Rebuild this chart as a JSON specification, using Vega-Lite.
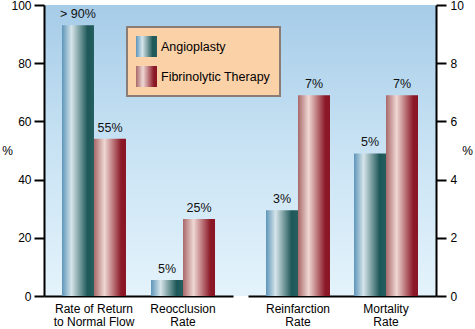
{
  "$schema": "https://vega.github.io/schema/vega-lite/v6.json",
  "width": 392,
  "height": 291,
  "autosize": "none",
  "padding": {"left": 44, "top": 5, "right": 39, "bottom": 33},
  "background": "white",
  "datasets": {
    "left": [
      {"category": "Rate of Return|to Normal Flow", "therapy": "Angioplasty", "value": 93, "label": "> 90%"},
      {"category": "Rate of Return|to Normal Flow", "therapy": "Fibrinolytic Therapy", "value": 54, "label": "55%"},
      {"category": "Reocclusion|Rate", "therapy": "Angioplasty", "value": 5.5, "label": "5%"},
      {"category": "Reocclusion|Rate", "therapy": "Fibrinolytic Therapy", "value": 26.5, "label": "25%"}
    ],
    "right": [
      {"category": "Reinfarction|Rate", "therapy": "Angioplasty", "value": 2.95, "label": "3%"},
      {"category": "Reinfarction|Rate", "therapy": "Fibrinolytic Therapy", "value": 6.9, "label": "7%"},
      {"category": "Mortality|Rate", "therapy": "Angioplasty", "value": 4.9, "label": "5%"},
      {"category": "Mortality|Rate", "therapy": "Fibrinolytic Therapy", "value": 6.9, "label": "7%"}
    ]
  },
  "config": {
    "font": "Liberation Sans",
    "view": {
      "stroke": null,
      "fill": {"gradient": "linear", "x1": 0, "y1": 0, "x2": 0, "y2": 1,
        "stops": [{"offset": 0, "color": "#a6cce8"}, {"offset": 0.5, "color": "#c9e3f4"}, {"offset": 1, "color": "#e4f3fb"}]}
    },
    "axis": {
      "domainColor": "black", "domainWidth": 2, "tickColor": "black", "tickWidth": 2, "tickSize": 10,
      "labelFont": "Liberation Sans", "labelFontSize": 12, "labelColor": "black", "grid": false,
      "titleFont": "Liberation Sans", "titleFontSize": 12, "titleFontWeight": "normal", "titleColor": "black"
    },
    "legend": {
      "orient": "none", "legendX": 83, "legendY": 22, "title": null,
      "fillColor": "#fbd1a8", "strokeColor": "#8a7d76", "strokeWidth": 2,
      "padding": 9, "symbolType": "square", "symbolSize": 440, "symbolStrokeWidth": 0, "symbolOpacity": 1,
      "labelFont": "Liberation Sans", "labelFontSize": 12.5, "labelColor": "black",
      "rowPadding": 9, "labelOffset": 4
    }
  },
  "layer": [
    {
      "data": {"name": "left"},
      "encoding": {
        "x": {"field": "category", "type": "nominal", "sort": null,
          "scale": {"range": [0, 189], "paddingInner": 0.281, "paddingOuter": 0.202},
          "axis": {"title": null, "ticks": false, "labelAngle": 0, "labelPadding": 7, "labelLineHeight": 13, "labelFontSize": 12, "labelExpr": "split(datum.value, '|')"}},
        "xOffset": {"field": "therapy", "type": "nominal", "sort": ["Angioplasty", "Fibrinolytic Therapy"], "scale": {"domain": ["Angioplasty", "Fibrinolytic Therapy"]}},
        "y": {"field": "value", "type": "quantitative",
          "scale": {"domain": [0, 100]},
          "axis": {"orient": "left", "values": [0, 20, 40, 60, 80, 100], "title": "%", "titleAngle": 0, "titleX": -37, "titleY": 145, "titleAlign": "center", "titleBaseline": "middle", "labelPadding": 3}}
      },
      "layer": [
        {"mark": {"type": "point", "opacity": 0, "filled": true,
           "fill": {"expr": "(datum.therapy || datum.value) === 'Angioplasty' ? {gradient: 'linear', x1: 0, y1: 0, x2: 1, y2: 0, stops: [{offset: 0, color: '#5d95b9'}, {offset: 0.3, color: '#d6e5ea'}, {offset: 0.8, color: '#1d5757'}, {offset: 1, color: '#245e5e'}]} : {gradient: 'linear', x1: 0, y1: 0, x2: 1, y2: 0, stops: [{offset: 0, color: '#a86868'}, {offset: 0.33, color: '#efd8d4'}, {offset: 0.85, color: '#8c1a28'}, {offset: 1, color: '#8a1424'}]}"}},
         "encoding": {"shape": {"field": "therapy", "type": "nominal",
           "scale": {"domain": ["Angioplasty", "Fibrinolytic Therapy"], "range": ["square", "square"]}}}},
        {"transform": [{"filter": "datum.therapy === 'Angioplasty'"}],
         "mark": {"type": "bar", "fill": {"gradient": "linear", "x1": 0, "y1": 0, "x2": 1, "y2": 0, "stops": [{"offset": 0, "color": "#5d95b9"}, {"offset": 0.3, "color": "#d6e5ea"}, {"offset": 0.8, "color": "#1d5757"}, {"offset": 1, "color": "#245e5e"}]}}},
        {"transform": [{"filter": "datum.therapy === 'Fibrinolytic Therapy'"}],
         "mark": {"type": "bar", "fill": {"gradient": "linear", "x1": 0, "y1": 0, "x2": 1, "y2": 0, "stops": [{"offset": 0, "color": "#a86868"}, {"offset": 0.33, "color": "#efd8d4"}, {"offset": 0.85, "color": "#8c1a28"}, {"offset": 1, "color": "#8a1424"}]}}},
        {"mark": {"type": "text", "dy": -7, "baseline": "alphabetic", "fontSize": 12.5, "color": "#111"},
         "encoding": {"text": {"field": "label"}}}
      ]
    },
    {
      "data": {"name": "right"},
      "encoding": {
        "x": {"field": "category", "type": "nominal", "sort": null,
          "scale": {"range": [204, 392], "paddingInner": 0.273, "paddingOuter": 0.2045},
          "axis": {"title": null, "ticks": false, "labelAngle": 0, "labelPadding": 7, "labelLineHeight": 13, "labelFontSize": 12, "orient": "bottom", "labelExpr": "split(datum.value, '|')"}},
        "xOffset": {"field": "therapy", "type": "nominal", "sort": ["Angioplasty", "Fibrinolytic Therapy"], "scale": {"domain": ["Angioplasty", "Fibrinolytic Therapy"]}},
        "y": {"field": "value", "type": "quantitative",
          "scale": {"domain": [0, 10]},
          "axis": {"orient": "right", "values": [0, 2, 4, 6, 8, 10], "title": "%", "titleAngle": 0, "titleX": 31, "titleY": 145, "titleAlign": "center", "titleBaseline": "middle", "labelPadding": 4}}
      },
      "layer": [
        {"transform": [{"filter": "datum.therapy === 'Angioplasty'"}],
         "mark": {"type": "bar", "fill": {"gradient": "linear", "x1": 0, "y1": 0, "x2": 1, "y2": 0, "stops": [{"offset": 0, "color": "#5d95b9"}, {"offset": 0.3, "color": "#d6e5ea"}, {"offset": 0.8, "color": "#1d5757"}, {"offset": 1, "color": "#245e5e"}]}}},
        {"transform": [{"filter": "datum.therapy === 'Fibrinolytic Therapy'"}],
         "mark": {"type": "bar", "fill": {"gradient": "linear", "x1": 0, "y1": 0, "x2": 1, "y2": 0, "stops": [{"offset": 0, "color": "#a86868"}, {"offset": 0.33, "color": "#efd8d4"}, {"offset": 0.85, "color": "#8c1a28"}, {"offset": 1, "color": "#8a1424"}]}}},
        {"mark": {"type": "text", "dy": -7, "baseline": "alphabetic", "fontSize": 12.5, "color": "#111"},
         "encoding": {"text": {"field": "label"}}}
      ]
    }
  ],
  "resolve": {"scale": {"x": "independent", "y": "independent", "xOffset": "independent"}}
}
